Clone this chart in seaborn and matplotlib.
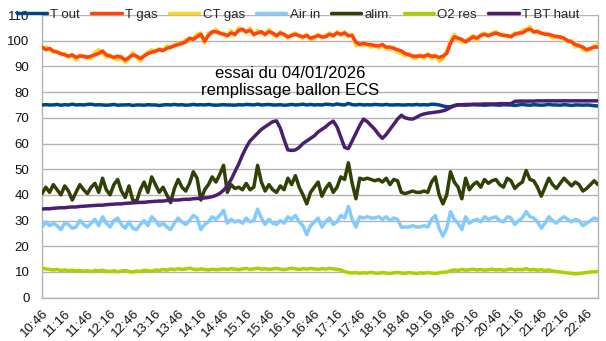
import numpy as np
import pandas as pd
import matplotlib
matplotlib.use("Agg")
import matplotlib.pyplot as plt
import seaborn as sns

# ---------------- data (5-minute samples starting 10:46) ----------------
start_label = "10:46"
step_min = 5

t_out = [75, 75.1, 75, 75, 75.2, 74.9, 75.1, 75, 75.3, 75, 75.1, 75,
         75.2, 75.3, 75, 75.1, 75, 74.9, 75, 75.2, 74.9, 75, 75, 75.1,
         74.8, 75, 75, 74.9, 75.1, 75, 75, 74.8, 75, 75.1, 75, 75.2,
         75, 75.1, 74.9, 75, 75.2, 75, 75.1, 75, 75.2, 75, 74.9, 75,
         75.1, 75, 75, 74.9, 75.1, 75, 75.2, 75.1, 75, 75.3, 75, 75.1,
         75.2, 75, 75, 75.1, 74.9, 75, 75.2, 75, 75.1, 75.3, 75, 75.2,
         75, 75.1, 75, 75.3, 75.2, 75, 75.4, 75.1, 75, 75.6, 75.1, 75,
         75.2, 75, 75.1, 75, 75.2, 75.1, 75, 75.2, 75, 75, 75.1, 75,
         75, 75.1, 75, 75.2, 75, 75.1, 75, 75.3, 75.2, 75, 74.6, 74.3,
         74.3, 74.8, 75.1, 75, 74.9, 75, 75.1, 75, 75, 74.9, 75, 75.1,
         75, 74.9, 75.1, 75, 75, 74.8, 75, 75.2, 75, 74.9, 75.1, 75,
         74.9, 75, 75.2, 75, 75, 74.9, 75.1, 75, 74.8, 75, 75, 74.9,
         75, 74.9, 74.7, 74.6]

t_gas = [97.5, 96.5, 97, 96, 95.5, 95, 94.5, 94, 94.5, 93.5, 94, 94,
         93.5, 94, 94.5, 95, 96, 94.5, 94, 93.5, 94, 93.5, 92.5, 93.5,
         94.5, 94, 93, 94, 95, 95.5, 96, 96.5, 96.2, 97, 97.5, 98,
         98.5, 99, 99.5, 101, 100.5, 101.5, 102.5, 99.8, 102, 103.5, 103.5, 103,
         102.5, 102, 103, 102.5, 104, 104.5, 103.5, 104, 102.5, 103, 103.5, 102.5,
         103.5, 103, 102, 103, 102.5, 101.5, 102, 102.5, 102, 101.5, 102, 101,
         101.5, 102, 101.5, 101.5, 102.5, 102, 103, 102.5, 103, 102, 102, 99.5,
         98.5, 99, 98.5, 98.5, 98, 98, 98.5, 97.5, 97.5, 97, 96.5, 96,
         95, 94.5, 94, 94, 94, 94, 94.5, 94, 94, 93.5, 94, 95,
         99, 101.5, 101, 100.5, 99.5, 100.5, 101.5, 101, 102, 102.5, 102, 102.5,
         103, 102.5, 102, 102, 101.5, 102.5, 103, 103, 104, 104.5, 103.5, 103.5,
         103, 102.5, 102.5, 102, 101.5, 101.5, 101, 100, 99.5, 98.5, 98, 97.5,
         96.5, 97, 97.5, 97.5]

ct_gas = [97, 97.5, 96.5, 95.5, 96, 94.5, 95, 93.5, 94, 92.5, 94.5, 93.5,
          94, 93, 95.5, 96.5, 95, 93.5, 94.5, 93, 92.5, 94, 91.5, 93,
          95.5, 93.5, 92, 94.5, 95.5, 96.5, 95.5, 97, 96, 98, 97, 98.5,
          99, 98.5, 100.5, 100, 101, 102.5, 103, 99, 103, 103, 104.5, 102.5,
          103, 101.5, 104, 102, 105, 104, 103, 105, 102, 104, 103, 102,
          104.5, 102.5, 101.5, 103.5, 102, 101, 102.5, 103, 101.5, 101, 102.5, 100.5,
          101, 102.5, 101, 102, 103, 101.5, 103.5, 102, 103.5, 101.5, 102.5, 98,
          99, 98, 99, 97.5, 98.5, 97, 98, 97, 96.5, 97.5, 95.5, 95,
          94, 95, 93.5, 93, 94.5, 93, 95, 93, 94.5, 92, 93, 96,
          100, 102.5, 100, 99.5, 100, 101, 102, 100, 102.5, 103, 101.5, 103,
          103.5, 102, 102.5, 101.5, 102, 103, 102.5, 104, 104.5, 105.5, 103, 104,
          102.5, 103, 102, 101, 102, 101, 100.5, 99.5, 100, 97.5, 98.5, 96.5,
          96, 96.5, 98, 98.5]

air_in = [27.5, 29.5, 28, 29, 28, 26.5, 29, 28.5, 27, 27.5, 30, 28.5,
          27.5, 29, 30.5, 28, 31.5, 29, 27.5, 30, 31, 28.5, 27, 29.5,
          27, 26.5, 28.5, 30, 28, 31.5, 30, 28, 29, 27.5, 26.5, 29,
          31, 29.5, 28.5, 30, 32, 31, 26.5, 28.5, 29.5, 31.5, 30.5, 32,
          34, 29, 30.5, 29.5, 30, 29, 31, 29.5, 30, 34.5, 31, 28.5,
          30.5, 29, 28.5, 30, 29, 31.5, 30.5, 32, 29.5, 28, 24.5, 28,
          29.5, 31, 27.5, 29.5, 31, 28.5, 29.5, 32, 31, 35.5, 30.5, 27.5,
          31.5, 31, 31.5, 31, 31, 31.5, 30.5, 31.5, 30, 31, 30.5, 27.5,
          27.5, 27.5, 28, 27.5, 27.5, 28, 27.5, 30.5, 32, 27, 24, 27,
          33.5, 30.5, 29, 26.5, 31.5, 29, 30, 30.5, 29.5, 31.5, 30.5, 31,
          31.5, 30, 29.5, 31.5, 31, 28.5, 30, 31, 33.5, 31.5, 31, 29.5,
          27, 29, 31.5, 30, 29, 30.5, 31.5, 30.5, 29.5, 30.5, 30, 28,
          29, 30, 31, 30.5]

alim = [40.5, 43, 41, 44, 42, 40, 43.5, 41.5, 38, 41, 44, 42,
        40.5, 43, 44.5, 41, 46.5, 42, 40, 44, 46, 41.5, 39, 43.5,
        38, 37.5, 42, 45, 41, 47, 44, 41, 43, 40, 37, 42.5,
        46, 43, 41.5, 44.5, 49, 46.5, 38, 42, 44, 47, 45, 48,
        51.5, 41, 44, 42.5, 43, 42, 44.5, 42, 43, 51.5, 45, 41.5,
        44, 42, 41, 43.5, 42, 46.5, 44, 47.5, 43, 40, 36.5, 41,
        43, 45, 39.5, 42.5, 44.5, 41, 43, 47, 46, 52.5, 44.5, 38.5,
        46.5, 46, 46.5, 46, 45.5, 46, 45, 46.5, 44, 46, 45.5, 41,
        40.5, 41, 41.5, 41, 41, 41.5, 41, 45, 47, 40, 36.5, 40,
        49, 45, 43, 38.5, 46.5, 42, 44, 45, 43, 46, 44.5, 45.5,
        46, 44, 43, 46.5, 45.5, 42.5, 44, 45, 49.5, 46, 45.5, 43,
        39.5, 43, 46.5, 44, 42.5, 44.5, 46.5, 45, 43.5, 45, 44, 41.5,
        42.5, 44, 45.5, 44]

o2_res = [11.5, 11.2, 11, 10.8, 11, 10.6, 10.8, 10.5, 10.7, 10.4, 10.6, 10.3,
          10.5, 10.2, 10.6, 10.4, 10.7, 10.3, 10.2, 10.5, 10.1, 10.4, 10.6, 10.2,
          10, 10.4, 10.2, 10.7, 10.5, 10.3, 10.8, 10.6, 11, 10.7, 11.2, 10.9,
          11.3, 11, 11.2, 11.5, 11.1, 10.9, 11.2, 11, 10.8, 11.1, 10.9, 11,
          11.2, 11, 11.3, 11.1, 10.9, 11.2, 11.4, 11, 11.2, 11.5, 11.1, 11.3,
          11, 11.2, 11.4, 11.1, 10.9, 11.2, 11.5, 11.2, 11, 11.3, 11.1, 11.4,
          11.2, 11, 11.3, 11.1, 11.4, 11.2, 11, 10.8, 10.2, 9.8, 9.6, 9.8,
          9.5, 9.7, 9.6, 9.9, 9.6, 9.5, 9.8, 9.6, 9.4, 9.7, 9.8, 9.6,
          9.5, 9.8, 9.6, 9.4, 9.7, 9.5, 9.8, 9.6, 9.4, 9.7, 9.9, 10,
          10.5, 10.8, 10.6, 11, 10.7, 10.9, 11.1, 10.8, 11, 10.7, 10.9, 11.1,
          10.8, 11, 10.7, 10.9, 11.2, 10.8, 11, 10.9, 11.3, 10.8, 11, 10.7,
          10.9, 10.6, 10.8, 10.4, 10.2, 10, 9.8, 9.6, 9.5, 9.3, 9.4, 9.6,
          9.8, 10, 10.1, 10.2]

t_bt_haut = [34.5, 34.6, 34.6, 34.8, 34.9, 35.0, 35.0, 35.2, 35.3, 35.3, 35.5, 35.6,
             35.7, 35.8, 35.9, 36.0, 36.0, 36.2, 36.3, 36.4, 36.5, 36.5, 36.7, 36.8,
             36.9, 37.0, 37.1, 37.1, 37.3, 37.4, 37.5, 37.6, 37.6, 37.8, 37.9, 38.0,
             38.0, 38.2, 38.3, 38.3, 38.5, 38.6, 38.7, 38.8, 39.0, 39.3, 39.8, 40.6,
             41.8, 43.5, 46, 49, 52, 55.5, 58.5, 61, 62.5, 64, 65.5, 66.5,
             67.5, 68.5, 68.8, 66, 61.5, 57.5, 57.3, 57.5, 58.5, 60, 61, 62,
             63, 64.5, 65.5, 66.5, 67.8, 68.7, 66.5, 62.5, 58.5, 58, 61, 64,
             67, 69.5, 68.5, 67, 65.5, 63.5, 62, 63.5, 65.5, 67.5, 69.5, 71,
             70, 69.6, 69.5, 70.2, 71, 71.5, 71.8, 72, 72.2, 72.4, 72.7, 73.2,
             74, 74.6, 75, 75.1, 75.2, 75.2, 75.3, 75.3, 75.3, 75.4, 75.4, 75.4,
             75.4, 75.5, 75.5, 75.5, 75.5, 76.4, 76.5, 76.5, 76.5, 76.5, 76.5, 76.6,
             76.6, 76.6, 76.6, 76.6, 76.6, 76.6, 76.6, 76.6, 76.6, 76.6, 76.6, 76.6,
             76.6, 76.6, 76.6, 76.6]

tick_labels = ["10:46", "11:16", "11:46", "12:16", "12:46", "13:16", "13:46",
               "14:16", "14:46", "15:16", "15:46", "16:16", "16:46", "17:16",
               "17:46", "18:16", "18:46", "19:16", "19:46", "20:16", "20:46",
               "21:16", "21:46", "22:16", "22:46"]

series_names = ["T out", "T gas", "CT gas", "Air in", "alim.", "O2 res", "T BT haut"]
series_values = [t_out, t_gas, ct_gas, air_in, alim, o2_res, t_bt_haut]
colors = {"T out": "#004586", "T gas": "#ff420e", "CT gas": "#ffd320",
          "Air in": "#83caff", "alim.": "#314004", "O2 res": "#aecf00",
          "T BT haut": "#4b1f6f"}

minutes = np.arange(len(t_out)) * step_min
frames = []
for name, vals in zip(series_names, series_values):
    frames.append(pd.DataFrame({"minute": minutes, "value": vals, "series": name}))
df = pd.concat(frames, ignore_index=True)

# ---------------- plot ----------------
sns.set_style("white")
plt.rcParams["font.family"] = ["Liberation Sans", "DejaVu Sans"]

fig = plt.figure(figsize=(6.06, 3.41), dpi=100)
ax = fig.add_axes([42 / 606, 1 - 297.7 / 341, (598 - 42) / 606, (297.7 - 15) / 341])

draw_order = ["T out", "CT gas", "T gas", "Air in", "alim.", "O2 res", "T BT haut"]
for z, name in enumerate(draw_order):
    sns.lineplot(data=df[df["series"] == name], x="minute", y="value",
                 color=colors[name], linewidth=2.5, ax=ax, label=name,
                 zorder=3 + z, legend=False)

ax.set_xlim(0, 735)
ax.set_ylim(0, 110)
ax.set_yticks(np.arange(0, 111, 10))
ax.set_xticks(np.arange(len(tick_labels)) * 30)
ax.set_xticklabels(tick_labels, rotation=45, ha="right", va="top",
                   rotation_mode="anchor", fontsize=9.5)
ax.tick_params(axis="y", labelsize=9.5, length=5, width=1, color="#b3b3b3",
               direction="out", pad=4, labelcolor="#111111")
ax.tick_params(axis="x", length=5, width=1, color="#b3b3b3", direction="out",
               pad=2, labelcolor="#111111")
ax.set_xlabel("")
ax.set_ylabel("")
ax.grid(axis="y", color="#b3b3b3", linewidth=1)
ax.grid(axis="x", visible=False)
ax.set_axisbelow(True)
for side in ["left", "bottom", "right"]:
    ax.spines[side].set_color("#b3b3b3")
    ax.spines[side].set_linewidth(1)
ax.spines["top"].set_visible(False)

handles_map = {l.get_label(): l for l in ax.get_lines() if l.get_label() in colors}
handles = [handles_map[n] for n in series_names]
fig.legend(handles, series_names, loc="center", ncol=7, frameon=False,
           bbox_to_anchor=(298 / 606, 1 - 15 / 341), fontsize=9.5,
           handlelength=2.3, handletextpad=0.25, columnspacing=0.85,
           borderaxespad=0, borderpad=0)

fig.text(290 / 606, 1 - 82 / 341, "essai du 04/01/2026\nremplissage ballon ECS",
         ha="center", va="center", fontsize=12, linespacing=1.15, color="#000000")

fig.savefig("out.png", dpi=100)
